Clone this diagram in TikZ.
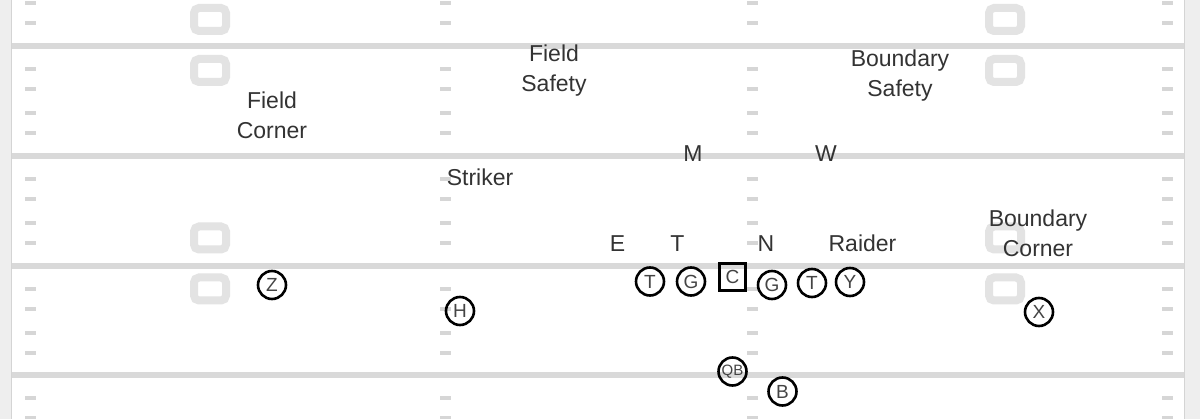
\documentclass[tikz,border=0pt]{standalone}
\usepackage{fontspec}
\setmainfont{Liberation Sans}
\definecolor{ydgray}{HTML}{D9D9D9}
\definecolor{hashgray}{HTML}{D6D6D6}
\definecolor{numgray}{HTML}{E3E3E3}
\definecolor{sidegray}{HTML}{EEEEEE}
\definecolor{sideedge}{HTML}{D4D4D4}
\definecolor{lblgray}{HTML}{333333}
\definecolor{pltext}{HTML}{444444}
\begin{document}
\begin{tikzpicture}[x=1pt,y=-1pt,
  yardline/.style={line width=6pt, draw=ydgray},
  hashmark/.style={fill=hashgray},
  numbox/.style={draw=numgray, line width=8pt, rounded corners=5pt},
  lbl/.style={font=\fontsize{23}{30}\selectfont, text=lblgray, align=center, inner sep=0pt, anchor=base},
  player/.style={circle, draw=black, line width=2.6pt, minimum size=28pt, inner sep=0pt, font=\fontsize{19}{19}\selectfont, text=pltext},
  center/.style={rectangle, draw=black, line width=2.6pt, minimum size=26.5pt, inner sep=0pt, font=\fontsize{19}{19}\selectfont, text=pltext}]
\useasboundingbox (0,0) rectangle (1200,419);
\fill[white] (0,0) rectangle (1200,419);
\clip (0,0) rectangle (1200,419);
% side strips
\fill[sidegray] (0,0) rectangle (12,419);
\draw[sideedge, line width=1pt] (11.5,0) -- (11.5,419);
\fill[sidegray] (1184,0) rectangle (1200,419);
\draw[sideedge, line width=1pt] (1184.5,0) -- (1184.5,419);
% hash marks
\foreach \L in {-64,46,156,266,375}
  \foreach \d in {23,43,67,87}
    \foreach \x in {25,440,747,1162}
      \fill[hashmark] (\x,\L+\d-2) rectangle ++(11,4);
% yard lines
\foreach \y in {46,156,266,375}
  \draw[yardline] (12,\y) -- (1184,\y);
% yard numbers
\foreach \cx in {210,1005}
  \foreach \cy in {19.5,70.5,238,289}
    \draw[numbox] (\cx-16,\cy-11.5) rectangle (\cx+16,\cy+11.5);
% defense labels (base = last line baseline)
\node[lbl] (fc) at (272,139) {Field\\Corner};
\node[lbl] (fs) at (554,92) {Field\\Safety};
\node[lbl] (bs) at (900,96.5) {Boundary\\Safety};
\node[lbl] (m) at (693,161.5) {M};
\node[lbl] (w) at (826,161.5) {W};
\node[lbl] (st) at (480,186) {Striker};
\node[lbl] (e) at (617.5,251.5) {E};
\node[lbl] (dt) at (677.5,251.5) {T};
\node[lbl] (n) at (766,251.5) {N};
\node[lbl] (r) at (862.5,251.5) {Raider};
\node[lbl] (bc) at (1038,257) {Boundary\\Corner};
% offense
\node[player] (z) at (272,285) {Z};
\node[player] (h) at (460,311) {H};
\node[player] (lt) at (650,281.5) {T};
\node[player] (lg) at (691,281.5) {G};
\node[center] (c) at (732.5,277) {C};
\node[player] (rg) at (772,285) {G};
\node[player] (rt) at (812,283) {T};
\node[player] (y) at (850,282) {Y};
\node[player, font=\fontsize{15}{15}\selectfont] (qb) at (732.5,371.5) {QB};
\node[player] (b) at (782.5,391.5) {B};
\node[player] (x) at (1039,312) {X};
\end{tikzpicture}
\end{document}
